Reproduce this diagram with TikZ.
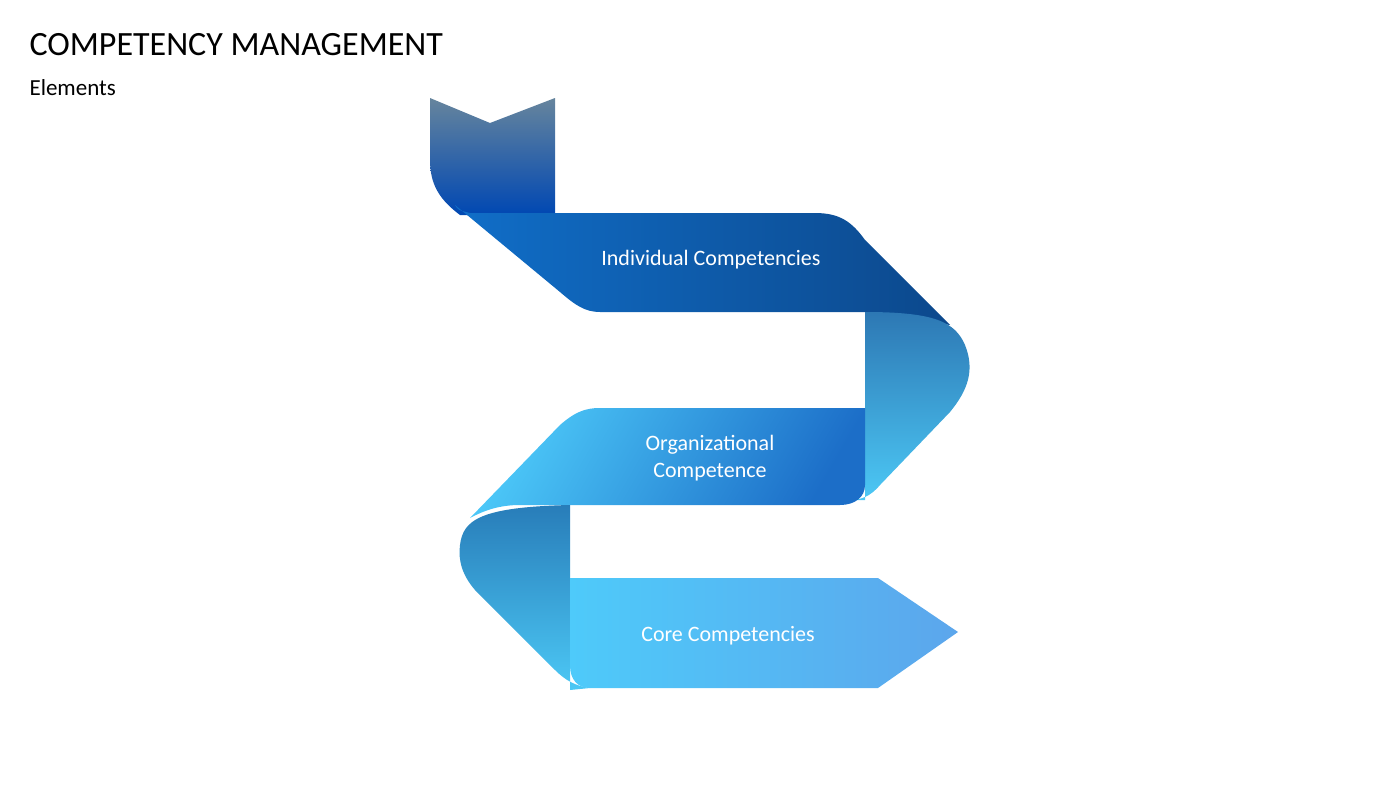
\documentclass[tikz,border=0pt]{standalone}
\usepackage{fontspec}
\setmainfont{Carlito}
\begin{document}
\begin{tikzpicture}[x=1pt,y=-1pt,
  lbl/.style={text=white,font=\fontsize{22}{27}\selectfont,align=center}]
\useasboundingbox (0,0) rectangle (1400,788);
% tail
\shade[top color=blue!20!black!80!cyan!60, bottom color=blue!60!cyan!70!black, shading angle=0]
  (430,98) -- (490,123) -- (555,98) -- (555,215) -- (460,215) .. controls (440,200) and (430,185) .. (430,160) -- cycle;
% band 1
\shade[left color={rgb,255:red,16;green,110;blue,200}, right color={rgb,255:red,12;green,72;blue,140}]
  (455,205) .. controls (458,210) .. (470,213) -- (815,213) .. controls (840,213) and (852,222) .. (865,240)
  -- (950,325) -- (865,312) -- (600,312) .. controls (585,312) and (575,305) .. (560,292) -- cycle;
% fold 1
\shade[top color={rgb,255:red,45;green,120;blue,180}, bottom color={rgb,255:red,76;green,200;blue,245}]
  (865,312) .. controls (935,312) and (955,322) .. (965,345) .. controls (975,370) and (968,390) .. (950,412)
  -- (880,485) .. controls (870,497) and (860,500) .. (850,500) -- (865,500) -- cycle;
% band 2
\shade[left color={rgb,255:red,76;green,200;blue,248}, right color={rgb,255:red,28;green,110;blue,200}, shading angle=60]
  (600,408) -- (865,408) -- (865,485) .. controls (865,497) and (855,505) .. (840,505) -- (520,505)
  .. controls (500,505) and (485,510) .. (470,518) -- (560,425) .. controls (575,412) and (585,408) .. (600,408) -- cycle;
% fold 2
\shade[top color={rgb,255:red,40;green,125;blue,185}, bottom color={rgb,255:red,76;green,200;blue,245}]
  (570,505) -- (570,690) -- (590,688) .. controls (575,686) and (565,680) .. (555,670)
  -- (475,590) .. controls (462,575) and (458,560) .. (460,545) .. controls (463,520) and (480,507) .. (570,505) -- cycle;
% band 3
\shade[left color={rgb,255:red,78;green,202;blue,250}, right color={rgb,255:red,92;green,166;blue,236}]
  (570,578) -- (878,578) -- (958,632) -- (878,688) -- (590,688) .. controls (578,688) and (570,680) .. (570,665) -- cycle;
% texts
\node[anchor=base west,font=\fontsize{34}{40}\selectfont] (title) at (26,55) {COMPETENCY MANAGEMENT};
\node[anchor=base west,font=\fontsize{23}{28}\selectfont] (sub) at (26,95) {Elements};
\node[lbl] (l1) at (711,260) {Individual Competencies};
\node[lbl] (l2) at (710,458) {Organizational\\Competence};
\node[lbl] (l3) at (728,636) {Core Competencies};
\end{tikzpicture}
\end{document}
